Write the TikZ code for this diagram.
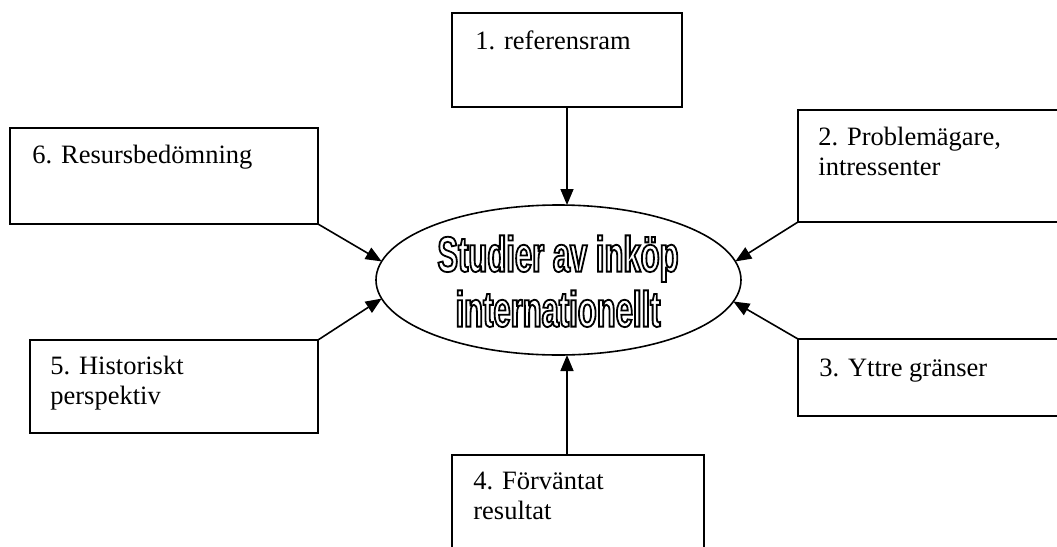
\documentclass[tikz,border=0pt]{standalone}
\usepackage{fontspec}
\setmainfont{Liberation Serif}
\newfontfamily\titlefont[FakeStretch=0.62]{Liberation Sans}
\usetikzlibrary{arrows.meta, positioning, shapes.geometric}
\newcommand\hollow[1]{\special{pdf:literal direct 1 Tr 0.9 w}#1\special{pdf:literal direct 0 Tr}}
\begin{document}
\begin{tikzpicture}[x=0.5pt, y=-0.5pt,
			box/.style={draw, rectangle, line width=1pt, inner sep=0pt, outer sep=0pt, anchor=north west},
			txt/.style={anchor=north west, inner sep=0pt, align=left, font=\fontsize{13.25pt}{15pt}\selectfont},
			arr/.style={-{Triangle[length=8pt, width=6.5pt]}, line width=0.8pt}]
			
			\useasboundingbox (0,0) rectangle (1057,547);
			
			% Drawing the boxes
			\node[box, minimum width=115pt, minimum height=47pt] (b1) at (452,13) {};
			\node[box, minimum width=141pt, minimum height=56pt] (b2) at (798,110) {};
			\node[box, minimum width=141pt, minimum height=38.5pt] (b3) at (798,339) {};
			\node[box, minimum width=126pt, minimum height=55pt] (b4) at (452,455) {};
			\node[box, minimum width=144pt, minimum height=46.5pt] (b5) at (30,340) {};
			\node[box, minimum width=154pt, minimum height=48pt] (b6) at (10,128) {};
			
			% Box texts
			\node[txt] (t1) at ([xshift=11.5pt, yshift=-8.5pt]b1.north west) {1. referensram};
			\node[txt] (t2) at ([xshift=10pt, yshift=-8.5pt]b2.north west) {2. Problemägare,\\intressenter};
			\node[txt] (t3) at ([xshift=10.5pt, yshift=-10pt]b3.north west) {3. Yttre gränser};
			\node[txt] (t4) at ([xshift=10.5pt, yshift=-8.5pt]b4.north west) {4. Förväntat\\resultat};
			\node[txt] (t5) at ([xshift=10pt, yshift=-8pt]b5.north west) {5. Historiskt\\perspektiv};
			\node[txt] (t6) at ([xshift=11pt, yshift=-8.5pt]b6.north west) {6. Resursbedömning};
			
			% The centre ellipse
			\node[draw, ellipse, line width=0.8pt, inner sep=0pt, outer sep=0pt,
			minimum width=182.5pt, minimum height=75pt] (core) at (558.5,280) {};
			
			% Connecting boxes to the ellipse
			\draw[arr] (b1) -- (b1 |- core.north);
			\draw[arr] (b1.south |- b4.north) -- (b1.south |- core.south);
			\draw[arr] (b6.south east) -- (core.174);
			\draw[arr] (b5.north east) -- (core.186);
			\draw[arr] (b2.south west) -- (core.6);
			\draw[arr] (b3.north west) -- (core.353);
			
			% Title in the ellipse
			\node[anchor=north, inner sep=0pt, align=center,
			font=\titlefont\bfseries\fontsize{25pt}{27.5pt}\selectfont] (title) at (558,235)
			{\hollow{Studier av inköp}\\\hollow{internationellt}};
		\end{tikzpicture}
\end{document}
